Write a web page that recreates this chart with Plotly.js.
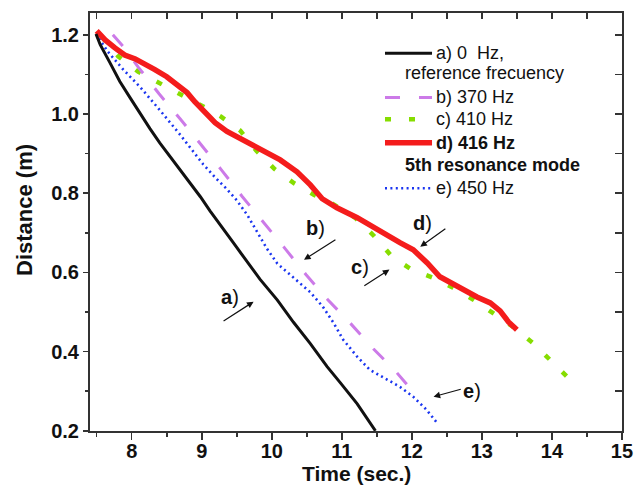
<!DOCTYPE html>
<html>
<head>
<meta charset="utf-8">
<script src="https://cdn.plot.ly/plotly-3.0.1.min.js"></script>
<style>html,body{margin:0;padding:0;background:#fff;}#chart{width:637px;height:487px;}</style>
</head>
<body>
<div id="chart"></div>
<script>
// ---- data ----
const timeA = [7.49, 7.55, 7.69, 7.83, 7.98, 8.12, 8.26, 8.40, 8.55, 8.69, 8.83, 8.98, 9.12, 9.26, 9.45, 9.59, 9.83, 10.08, 10.31, 10.55, 10.79, 10.98, 11.22, 11.48];
const distA = [1.202, 1.175, 1.129, 1.082, 1.040, 1.000, 0.963, 0.927, 0.892, 0.861, 0.826, 0.791, 0.755, 0.720, 0.675, 0.641, 0.583, 0.530, 0.474, 0.420, 0.362, 0.321, 0.268, 0.200];

const timeB = [7.73, 7.88, 8.09, 8.39, 8.69, 8.98, 9.28, 9.58, 9.88, 10.19, 10.49, 10.80, 11.13, 11.45, 11.76, 12.02];
const distB = [1.200, 1.170, 1.119, 1.051, 0.988, 0.925, 0.859, 0.791, 0.728, 0.660, 0.594, 0.531, 0.470, 0.407, 0.352, 0.298];

const timeC = [7.57, 7.81, 8.09, 8.38, 8.68, 8.98, 9.27, 9.55, 9.78, 10.04, 10.32, 10.60, 10.89, 11.19, 11.46, 11.72, 12.00, 12.31, 12.59, 12.88, 13.17, 13.45, 13.74, 14.02, 14.30];
const distC = [1.196, 1.145, 1.107, 1.078, 1.051, 1.023, 0.994, 0.958, 0.907, 0.861, 0.825, 0.796, 0.771, 0.738, 0.692, 0.639, 0.607, 0.586, 0.561, 0.531, 0.495, 0.462, 0.420, 0.372, 0.322];

const timeD = [7.50, 7.62, 7.76, 7.90, 8.05, 8.16, 8.33, 8.50, 8.66, 8.79, 8.90, 9.05, 9.19, 9.36, 9.62, 9.88, 10.12, 10.36, 10.55, 10.72, 10.93, 11.22, 11.50, 11.83, 12.02, 12.22, 12.40, 12.65, 12.93, 13.12, 13.26, 13.38, 13.50];
const distD = [1.210, 1.187, 1.167, 1.149, 1.139, 1.129, 1.112, 1.094, 1.074, 1.054, 1.031, 1.006, 0.978, 0.956, 0.932, 0.905, 0.884, 0.854, 0.821, 0.786, 0.763, 0.738, 0.708, 0.675, 0.657, 0.624, 0.589, 0.564, 0.538, 0.523, 0.503, 0.475, 0.455];

const timeE = [7.49, 7.66, 7.88, 8.12, 8.40, 8.69, 9.02, 9.20, 9.35, 9.50, 9.65, 9.79, 9.93, 10.08, 10.26, 10.41, 10.55, 10.73, 10.88, 11.02, 11.22, 11.40, 11.65, 11.83, 12.02, 12.21, 12.36];
const distE = [1.202, 1.157, 1.112, 1.068, 1.010, 0.948, 0.873, 0.838, 0.812, 0.782, 0.745, 0.703, 0.660, 0.622, 0.594, 0.572, 0.550, 0.513, 0.473, 0.430, 0.387, 0.354, 0.329, 0.311, 0.286, 0.253, 0.220];

const seriesNames = ['a) 0  Hz,', 'b) 370 Hz', 'c) 410 Hz', '<b>d) 416 Hz</b>', 'e) 450 Hz'];
const seriesNotes = ['reference frecuency', '', '', '<b>5th resonance mode</b>', ''];
const curveLabels = ['a', 'b', 'c', 'd', 'e'];
const xTickVals = [8, 9, 10, 11, 12, 13, 14, 15];
const yTickVals = [0.2, 0.4, 0.6, 0.8, 1.0, 1.2];
const xTitle = 'Time (sec.)';
const yTitle = 'Distance (m)';

// ---- styles ----
const FONT = 'Liberation Sans, Arial, Helvetica, sans-serif';
const styles = [
  {color: '#111111', width: 3, dash: 'solid'},
  {color: '#CC7AE8', width: 3, dash: '15px,19px'},
  {color: '#86DD00', width: 4.5, dash: '6px,18px'},
  {color: '#F41C1C', width: 5.5, dash: 'solid'},
  {color: '#1A35F0', width: 2.6, dash: '2px,3.4px'}
];
const xs = [timeA, timeB, timeC, timeD, timeE];
const ys = [distA, distB, distC, distD, distE];
const order = [0, 2, 1, 4, 3]; // drawing order (red on top of green)

const traces = order.map((i, k) => ({
  x: xs[i], y: ys[i], type: 'scatter', mode: 'lines', name: seriesNames[i],
  // the first drawn curve lives on a second axis pair (same ranges, same domain)
  // that carries the inward ticks of the top and right frame
  xaxis: k === 0 ? 'x2' : 'x', yaxis: k === 0 ? 'y2' : 'y',
  line: {color: styles[i].color, width: styles[i].width, dash: styles[i].dash, shape: 'linear'},
  showlegend: false, hoverinfo: 'skip'
}));

const xRange = [7.404, 15.001];
const yRange = [0.1995, 1.255];
const axisLine = {showline: true, linecolor: '#333', linewidth: 2, zeroline: false, showgrid: false};

// ---- manual legend (paper coords) ----
const legRows = [0.9036, 0.798, 0.7457, 0.6897, 0.5806];
const noteRows = [0.8557, null, null, 0.6364, null];
const shapes = [];
const annotations = [];
for (let i = 0; i < 5; i++) {
  shapes.push({type: 'line', xref: 'paper', yref: 'paper', x0: 0.5545, x1: 0.6429, y0: legRows[i], y1: legRows[i],
    line: {color: styles[i].color, width: styles[i].width, dash: styles[i].dash}});
  annotations.push({xref: 'paper', yref: 'paper', x: 0.6466, y: legRows[i], xanchor: 'left', yanchor: 'middle',
    text: seriesNames[i], showarrow: false, font: {family: FONT, size: 18, color: '#111'}});
  if (noteRows[i] !== null) {
    annotations.push({xref: 'paper', yref: 'paper', x: 0.5883, y: noteRows[i], xanchor: 'left', yanchor: 'middle',
      text: seriesNotes[i], showarrow: false, font: {family: FONT, size: 18, color: '#111'}});
  }
}

// ---- curve labels with arrows (data coords) ----
const labelPos = [[9.40, 0.538], [10.62, 0.713], [11.26, 0.614], [12.15, 0.725], [12.86, 0.301]];
const arrowTail = [[9.29, 0.475], [10.93, 0.685], [11.30, 0.564], [12.50, 0.713], [12.72, 0.306]];
const arrowHead = [[9.74, 0.526], [10.46, 0.632], [11.68, 0.607], [12.12, 0.665], [12.31, 0.286]];
for (let i = 0; i < 5; i++) {
  annotations.push({xref: 'x', yref: 'y', x: labelPos[i][0], y: labelPos[i][1], text: '<b>' + curveLabels[i] + '</b>)',
    showarrow: false, xanchor: 'center', yanchor: 'middle', font: {family: FONT, size: 20, color: '#111'}});
  annotations.push({xref: 'x', yref: 'y', axref: 'x', ayref: 'y', x: arrowHead[i][0], y: arrowHead[i][1],
    ax: arrowTail[i][0], ay: arrowTail[i][1], text: '', showarrow: true, arrowhead: 2, arrowsize: 1.1,
    arrowwidth: 1.2, arrowcolor: '#111', standoff: 0, startstandoff: 0});
}

// ---- axis titles ----
annotations.push({xref: 'paper', yref: 'paper', x: 0.5, y: -0.1316, xanchor: 'center', yanchor: 'bottom',
  text: '<b>' + xTitle + '</b>', showarrow: false, borderpad: 0, font: {family: FONT, size: 21, color: '#111'}});
annotations.push({xref: 'paper', yref: 'paper', x: -0.122, y: 0.529, xanchor: 'center', yanchor: 'middle',
  textangle: -90, text: '<b>' + yTitle + '</b>', showarrow: false, font: {family: FONT, size: 22, color: '#111'}});

const layout = {
  width: 637, height: 487,
  margin: {l: 90, r: 15, t: 13, b: 56},
  paper_bgcolor: '#fff', plot_bgcolor: 'rgba(0,0,0,0)',
  font: {family: FONT, color: '#111'},
  showlegend: false,
  xaxis: Object.assign({}, axisLine, {
    mirror: true, domain: [0, 1],
    range: xRange, tickvals: xTickVals, ticks: 'outside', ticklen: 7, tickwidth: 1.5, tickcolor: '#333',
    ticklabelstandoff: -6,
    tickfont: {family: FONT, size: 20, weight: 'bold', color: '#111'},
    minor: {dtick: 0.5, tick0: 0, ticks: 'outside', ticklen: 4, tickwidth: 1.5, tickcolor: '#333', showgrid: false}
  }),
  xaxis2: Object.assign({}, axisLine, {
    side: 'top', anchor: 'y2', domain: [0, 1], range: xRange, tickvals: xTickVals, showticklabels: false,
    ticks: 'inside', ticklen: 6, tickwidth: 1.5, tickcolor: '#333',
    minor: {dtick: 0.5, tick0: 0, ticks: 'inside', ticklen: 6, tickwidth: 1.5, tickcolor: '#333', showgrid: false}
  }),
  yaxis: Object.assign({}, axisLine, {
    mirror: true, domain: [0, 1],
    range: yRange, tickvals: yTickVals, tickformat: '.1f', ticks: 'outside', ticklen: 5, tickwidth: 1.5, tickcolor: '#333',
    tickfont: {family: FONT, size: 20, weight: 'bold', color: '#111'},
    minor: {dtick: 0.1, tick0: 0, ticks: 'outside', ticklen: 3, tickwidth: 1.5, tickcolor: '#333', showgrid: false}
  }),
  yaxis2: Object.assign({}, axisLine, {
    side: 'right', anchor: 'x2', domain: [0, 1], range: yRange, tickvals: yTickVals, showticklabels: false,
    ticks: 'inside', ticklen: 7, tickwidth: 1.5, tickcolor: '#333',
    minor: {dtick: 0.1, tick0: 0, ticks: 'inside', ticklen: 7, tickwidth: 1.5, tickcolor: '#333', showgrid: false}
  }),
  shapes: shapes,
  annotations: annotations
};

Plotly.newPlot('chart', traces, layout, {displayModeBar: false, staticPlot: true});
</script>
</body>
</html>
